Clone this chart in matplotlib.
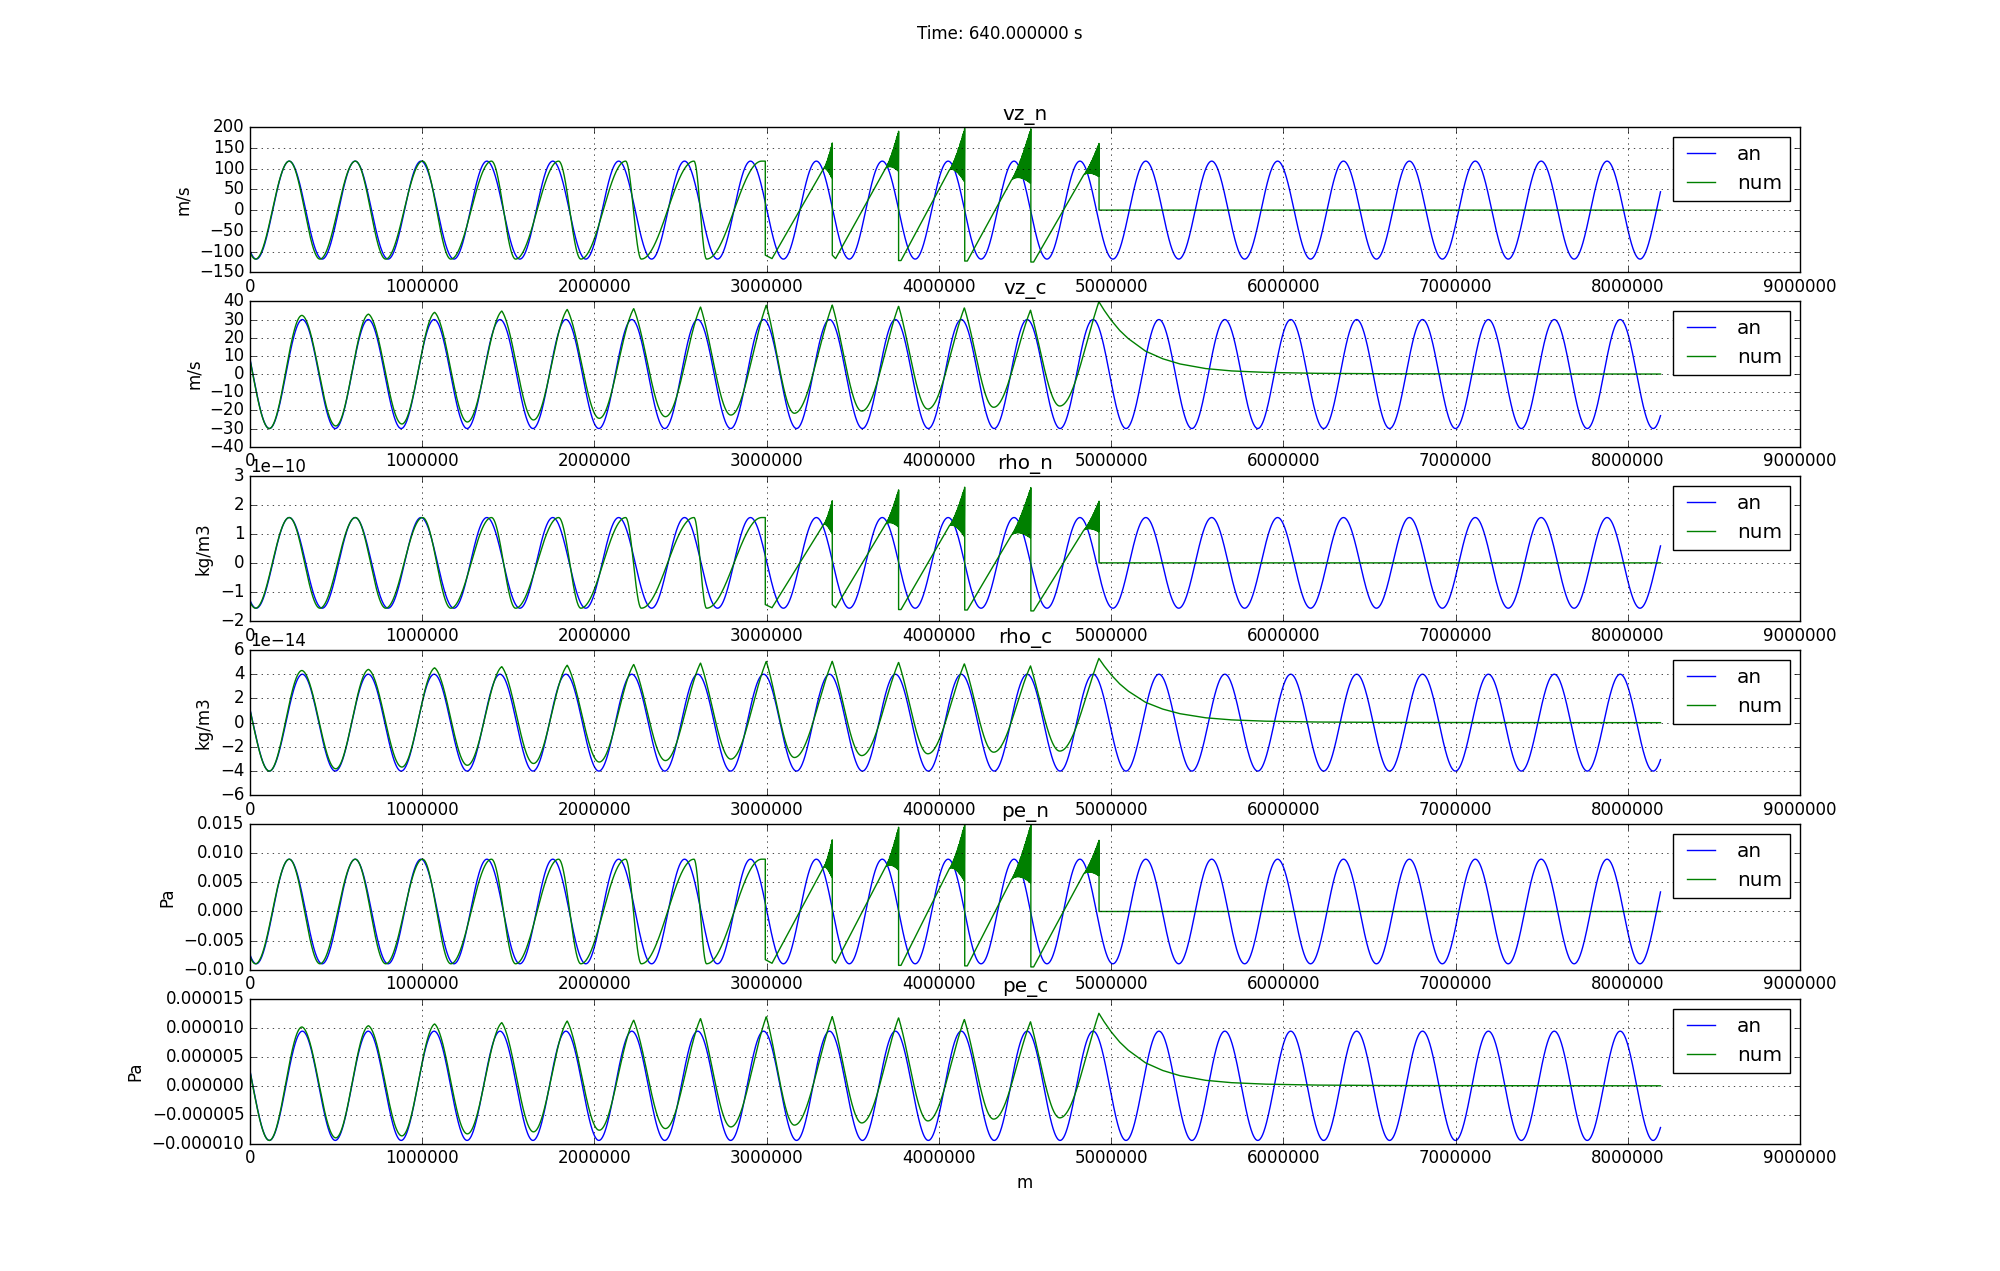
import numpy as np
import matplotlib
matplotlib.use("Agg")
import matplotlib.pyplot as plt

plt.style.use("classic")

MM = 1e6  # positions below are in units of 1e6 m
x_end = 8.19
wavelength = 0.3826

panels = ["vz_n", "vz_c", "rho_n", "rho_c", "pe_n", "pe_c"]
units = ["m/s", "m/s", "kg/m3", "kg/m3", "Pa", "Pa"]
kinds = ["n", "c", "n", "c", "n", "c"]
amplitudes = [118.0, 30.0, 1.56e-10, 4.0e-14, 0.0090, 9.4e-6]
crest_x = [0.2277, 0.304, 0.2277, 0.304, 0.2277, 0.304]
ylims = [(-150, 200), (-40, 40), (-2e-10, 3e-10), (-6e-14, 6e-14),
         (-0.010, 0.015), (-0.000010, 0.000015)]

# neutral numerical solution, in units of the analytic amplitude
# smooth part: alternating crest/trough positions
n_ext_x = [-0.155, 0.032, 0.228, 0.406, 0.612, 0.788, 1.002, 1.166, 1.402,
           1.542, 1.792, 1.921, 2.181, 2.272, 2.578, 2.651, 2.971]
n_ext_y = [1.0, -1.0, 1.0, -1.0, 1.0, -1.0, 1.0, -1.0, 1.0,
           -1.0, 1.0, -1.0, 1.0, -1.0, 1.0, -1.0, 1.0]
# shock part: saw-tooth with oscillating band just before each jump
shock_x = [2.992, 3.381, 3.766, 4.150, 4.534, 4.930]
after_drop_y = [-0.92, -0.92, -1.03, -1.04, -1.06]
ramp_low_x = [3.031, 3.400, 3.780, 4.165, 4.550]
ramp_low_y = [-0.99, -0.99, -1.03, -1.04, -1.06]
band_start_x = [3.331, 3.690, 4.061, 4.421, 4.841]
band_start_y = [0.85, 0.85, 0.82, 0.61, 0.72]
band_mean_end = [1.00, 1.20, 1.12, 1.10, 1.02]
band_amp_end = [0.37, 0.41, 0.55, 0.56, 0.34]

# charged numerical solution, in units of the analytic amplitude
c_ext_x = [-0.080, 0.112, 0.302, 0.498, 0.688, 0.882, 1.072, 1.262, 1.462,
           1.646, 1.842, 2.028, 2.228, 2.412, 2.616, 2.792, 2.998, 3.161,
           3.381, 3.552, 3.766, 3.936, 4.148, 4.318, 4.532, 4.702, 4.929]
c_ext_y = [1.0, -1.0, 1.077, -0.953, 1.10, -0.917, 1.133, -0.88, 1.157,
           -0.843, 1.187, -0.813, 1.203, -0.783, 1.233, -0.753, 1.267, -0.72,
           1.267, -0.68, 1.247, -0.643, 1.217, -0.61, 1.173, -0.587, 1.327]
c_sharp = [0.0, 0.0, 0.0, 0.05, 0.05, 0.1, 0.1, 0.15, 0.15, 0.25, 0.25, 0.35,
           0.35, 0.45, 0.45, 0.55, 0.55, 0.6, 0.6, 0.6, 0.6, 0.6, 0.6, 0.6,
           0.6, 0.7, 0.7]
decay_x = [4.929, 4.96, 5.0, 5.05, 5.1, 5.2, 5.3, 5.4, 5.55, 5.7, 5.9, 6.2,
           6.6, 7.2, 8.19]
decay_y = [1.327, 1.17, 0.99, 0.80, 0.65, 0.42, 0.28, 0.185, 0.10, 0.057,
           0.03, 0.013, 0.005, 0.002, 0.0]


def through_extrema(x, ex, ey, sharp=None):
    """Half-cosine segments between successive extrema (optionally cusp-like crests)."""
    y = np.zeros_like(x)
    for i in range(len(ex) - 1):
        m = (x >= ex[i]) & (x <= ex[i + 1])
        t = (x[m] - ex[i]) / (ex[i + 1] - ex[i])
        f = (1 - np.cos(np.pi * t)) / 2
        s = 0.0 if sharp is None else max(sharp[i], sharp[i + 1])
        if s > 0:
            cusp = 1 - np.cos(np.pi * t / 2) if ey[i + 1] > ey[i] else np.sin(np.pi * t / 2)
            f = (1 - s) * f + s * cusp
        y[m] = ey[i] + (ey[i + 1] - ey[i]) * f
    return y


def analytic(x, amp, x0):
    return amp * np.cos(2 * np.pi * (x - x0) / wavelength)


def neutral_num():
    x1 = np.linspace(0, n_ext_x[-1], 3000)
    xs = [x1, [shock_x[0]]]
    ys = [through_extrema(x1, n_ext_x, n_ext_y), [n_ext_y[-1]]]
    for i in range(len(shock_x) - 1):
        xs.append([shock_x[i], ramp_low_x[i], band_start_x[i]])
        ys.append([after_drop_y[i], ramp_low_y[i], band_start_y[i]])
        xb = np.arange(band_start_x[i], shock_x[i + 1], 0.002)
        t = (xb - band_start_x[i]) / (shock_x[i + 1] - band_start_x[i])
        sign = np.where(np.arange(len(xb)) % 2 == 0, 1.0, -1.0)
        yb = (band_start_y[i] + (band_mean_end[i] - band_start_y[i]) * t
              + band_amp_end[i] * t ** 1.5 * sign)
        xs.append(xb)
        ys.append(yb)
        xs.append([shock_x[i + 1]])
        ys.append([band_mean_end[i] + band_amp_end[i]])
    xs.append([shock_x[-1], x_end])
    ys.append([0.0, 0.0])
    return np.concatenate(xs), np.concatenate(ys)


def charged_num():
    x1 = np.linspace(0, c_ext_x[-1], 4000)
    y1 = through_extrema(x1, c_ext_x, c_ext_y, c_sharp)
    return np.concatenate([x1, decay_x]), np.concatenate([y1, decay_y])


fig, axes = plt.subplots(6, 1, figsize=(20, 12.71))
fig.suptitle("Time: 640.000000 s")

x_an = np.linspace(0, x_end, 4000)
num_n = neutral_num()
num_c = charged_num()

for ax, name, unit, kind, amp, x0, lim in zip(axes, panels, units, kinds,
                                               amplitudes, crest_x, ylims):
    xn, yn = num_n if kind == "n" else num_c
    ax.plot(x_an * MM, analytic(x_an, amp, x0), "b-", label="an")
    ax.plot(xn * MM, yn * amp, "g-", label="num")
    ax.set_title(name)
    ax.set_ylabel(unit)
    ax.set_xlim(0, 9e6)
    ax.set_ylim(*lim)
    ax.grid(True)
    ax.legend(loc="upper right")

axes[-1].set_xlabel("m")

fig.savefig("out.png", dpi=100)
